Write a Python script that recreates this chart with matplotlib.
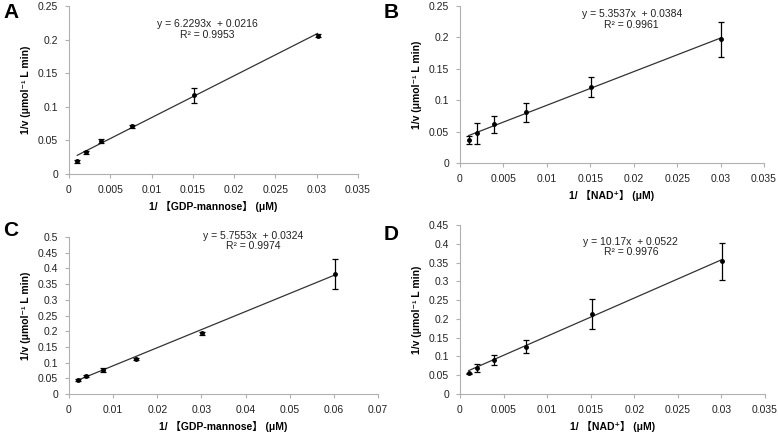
import numpy as np
import matplotlib
matplotlib.use("Agg")
import matplotlib.pyplot as plt

plt.rcParams['font.family'] = ['Liberation Sans', 'DejaVu Sans', 'Noto Sans CJK SC']

# Panel A: GDP-mannose
xA = [0.001, 0.002, 0.0039, 0.0076, 0.0151, 0.0301]
yA = [0.019, 0.032, 0.049, 0.071, 0.117, 0.206]
eA = [0.002, 0.002, 0.003, 0.002, 0.011, 0.002]
fitA = (6.2293, 0.0216)
r2A = 0.9953

# Panel B: NAD+
xB = [0.001, 0.002, 0.0039, 0.0076, 0.0151, 0.0301]
yB = [0.037, 0.047, 0.062, 0.081, 0.121, 0.197]
eB = [0.006, 0.016, 0.0135, 0.015, 0.016, 0.0275]
fitB = (5.3537, 0.0384)
r2B = 0.9961

# Panel C: GDP-mannose
xC = [0.002, 0.0039, 0.0077, 0.0152, 0.0302, 0.0602]
yC = [0.044, 0.058, 0.077, 0.112, 0.193, 0.382]
eC = [0.003, 0.004, 0.007, 0.003, 0.005, 0.048]
fitC = (5.7553, 0.0324)
r2C = 0.9974

# Panel D: NAD+
xD = [0.001, 0.002, 0.0039, 0.0076, 0.0151, 0.0301]
yD = [0.055, 0.069, 0.090, 0.126, 0.213, 0.353]
eD = [0.002, 0.010, 0.013, 0.017, 0.040, 0.050]
fitD = (10.17, 0.0522)
r2D = 0.9976

xlab_gdp = "1/ 【GDP-mannose】 (μM)"
xlab_nad = "1/ 【NAD⁺】 (μM)"
ylab = "1/v (μmol⁻¹ L min)"

W, H = 778, 432
fig = plt.figure(figsize=(W / 100, H / 100), dpi=100)


def px_axes(l, r, t, b):
    return fig.add_axes([l / W, 1 - b / H, (r - l) / W, (b - t) / H])


def panel(ax, x, y, e, fit, r2, xlim, xstep, ylim, ystep, xlabel, letter, eqpos, letterpos):
    ax.errorbar(x, y, yerr=e, fmt='o', color='black', ms=2.5, elinewidth=0.9,
                capsize=2, capthick=0.9, zorder=3)
    xs = np.array([min(x), max(x)])
    ax.plot(xs, fit[0] * xs + fit[1], color='#333333', lw=0.9, zorder=2)
    ax.set_xlim(*xlim)
    ax.set_ylim(*ylim)
    ax.set_xticks(np.round(np.arange(xlim[0], xlim[1] + xstep / 2, xstep), 4))
    ax.set_yticks(np.round(np.arange(ylim[0], ylim[1] + ystep / 2, ystep), 4))
    ax.xaxis.set_major_formatter(matplotlib.ticker.FuncFormatter(lambda v, p: ('%g' % v)))
    ax.yaxis.set_major_formatter(matplotlib.ticker.FuncFormatter(lambda v, p: ('%g' % v)))
    for s in ['top', 'right']:
        ax.spines[s].set_visible(False)
    for s in ['left', 'bottom']:
        ax.spines[s].set_color('#b0b0b0')
        ax.spines[s].set_linewidth(0.8)
    ax.tick_params(axis='both', which='both', direction='out', length=3,
                   color='#b0b0b0', labelsize=7.5, labelcolor='#222222', pad=5)
    ax.set_xlabel(xlabel, fontsize=7.5, fontweight='bold', labelpad=4)
    ax.set_ylabel(ylab, fontsize=7.5, fontweight='bold', labelpad=5)
    ax.text(eqpos[0], eqpos[1], "y = %sx  + %s\nR² = %s" % (fit[0], fit[1], r2),
            transform=ax.transAxes, ha='center', va='top', fontsize=7.5,
            color='#222222', linespacing=1.05)
    fig.text(letterpos[0] / W, 1 - letterpos[1] / H, letter, fontsize=15,
             fontweight='bold', ha='left', va='top')


axA = px_axes(69, 358, 6, 174)
panel(axA, xA, yA, eA, fitA, r2A, (0, 0.035), 0.005, (0, 0.25), 0.05, xlab_gdp, 'A',
      (0.478, 0.92), (3, 3))

axB = px_axes(460, 764, 6, 163)
panel(axB, xB, yB, eB, fitB, r2B, (0, 0.035), 0.005, (0, 0.25), 0.05, xlab_nad, 'B',
      (0.565, 0.98), (384, 3))

axC = px_axes(69, 378, 237, 394)
panel(axC, xC, yC, eC, fitC, r2C, (0, 0.07), 0.01, (0, 0.5), 0.05, xlab_gdp, 'C',
      (0.595, 1.04), (3, 221))

axD = px_axes(460, 765, 225, 394)
panel(axD, xD, yD, eD, fitD, r2D, (0, 0.035), 0.005, (0, 0.45), 0.05, xlab_nad, 'D',
      (0.56, 0.93), (384, 225))

fig.savefig('out.png', dpi=100, facecolor='white')
